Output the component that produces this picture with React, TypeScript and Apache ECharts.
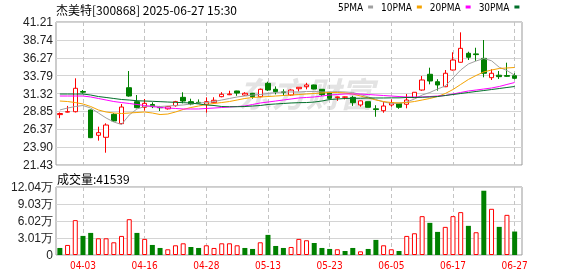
import React, { useEffect, useRef } from 'react';
import * as echarts from 'echarts';

const dates = ['03-31','04-01','04-02','04-03','04-07','04-08','04-09','04-10','04-11','04-14','04-15','04-16','04-17','04-18','04-21','04-22','04-23','04-24','04-25','04-28','04-29','04-30','05-06','05-07','05-08','05-09','05-12','05-13','05-14','05-15','05-16','05-19','05-20','05-21','05-22','05-23','05-26','05-27','05-28','05-29','05-30','06-03','06-04','06-05','06-06','06-09','06-10','06-11','06-12','06-13','06-16','06-17','06-18','06-19','06-20','06-23','06-24','06-25','06-26','06-27'];

const opens = [28.40,28.75,28.80,31.60,29.04,25.54,25.26,28.44,27.15,32.12,30.19,29.41,29.80,29.40,29.20,29.63,30.79,30.19,30.10,29.83,30.05,30.88,31.15,31.67,31.10,31.35,30.88,32.73,31.90,31.55,31.11,31.98,32.26,32.50,31.90,31.49,30.75,30.80,30.79,29.73,30.19,29.20,28.94,29.73,29.96,29.83,30.74,31.80,33.98,32.95,32.26,34.57,35.64,36.88,36.80,36.18,33.51,33.85,33.80,33.78];
const closes = [28.55,28.80,32.04,31.50,25.21,25.90,26.96,27.52,29.45,30.97,29.36,29.96,29.50,29.35,29.50,30.19,30.28,29.87,30.00,30.19,30.38,31.21,31.25,31.38,31.35,30.88,31.90,31.80,31.57,31.45,31.80,32.18,32.50,31.94,31.16,30.65,30.85,30.85,30.05,30.30,29.41,29.10,29.59,30.05,29.41,30.42,31.49,33.19,33.05,32.50,34.12,35.95,37.57,36.33,36.70,34.12,34.12,33.65,33.70,33.42];
const lows = [27.90,28.70,28.70,31.30,25.15,24.80,23.13,27.40,27.06,30.88,29.27,28.94,29.30,28.90,29.10,29.50,29.96,29.70,29.90,28.66,30.00,30.80,31.10,31.00,31.00,30.60,30.80,31.66,31.20,31.00,31.00,31.60,31.90,31.90,31.00,30.50,30.30,30.50,29.60,29.50,29.40,28.10,28.66,29.50,29.20,29.27,30.70,31.70,32.59,31.71,32.20,34.50,35.60,35.95,35.82,33.56,33.19,33.33,33.60,33.28];
const highs = [28.70,29.60,33.42,31.80,29.10,26.73,27.20,28.60,29.87,34.43,31.11,30.56,30.10,29.60,29.60,30.30,31.49,30.60,30.50,30.79,30.80,31.50,31.70,31.70,31.50,31.40,32.00,32.95,32.30,31.90,31.90,32.20,32.80,32.55,31.95,31.50,30.90,30.90,31.00,30.35,30.20,29.70,30.19,30.50,30.00,31.25,31.50,33.74,34.89,33.30,34.57,37.02,39.78,37.10,37.65,38.72,34.67,34.43,35.58,34.12];

const ma5 = [29.04,29.31,29.52,29.66,29.31,28.62,27.93,27.38,27.03,28.35,29.18,29.52,29.59,29.52,29.59,29.66,29.73,29.87,30.01,30.07,30.21,30.42,30.63,30.84,30.97,31.11,31.18,31.32,31.46,31.53,31.53,31.53,31.60,31.60,31.53,31.53,31.57,31.53,31.46,31.18,30.84,30.49,30.14,29.96,29.96,30.14,30.56,31.11,31.46,31.94,32.36,33.46,34.57,35.40,35.82,36.16,35.85,34.95,34.50,33.85];
const ma10 = [30.28,30.21,30.07,29.87,29.52,29.04,28.76,28.62,28.55,28.62,28.69,28.76,28.62,28.41,28.48,28.76,29.11,29.38,29.59,29.80,29.94,30.07,30.21,30.42,30.63,30.77,30.84,30.90,30.97,31.04,31.11,31.18,31.25,31.32,31.39,31.46,31.46,31.39,31.25,30.97,30.70,30.42,30.21,30.07,30.01,30.07,30.21,30.42,30.63,30.90,31.32,31.87,32.57,33.26,33.81,34.30,34.57,34.78,34.85,34.92];
const ma20 = [30.97,30.97,30.97,30.97,30.84,30.63,30.42,30.21,30.07,29.94,29.80,29.66,29.52,29.38,29.31,29.25,29.18,29.18,29.18,29.25,29.31,29.38,29.45,29.52,29.59,29.80,30.01,30.14,30.28,30.42,30.56,30.70,30.77,30.84,30.97,31.11,31.18,31.25,31.25,31.25,31.18,31.11,31.04,30.97,30.90,30.84,30.84,30.84,30.90,30.97,31.04,31.25,31.46,31.67,31.80,31.94,32.08,32.29,32.57,32.84];
const ma30 = [31.25,31.25,31.25,31.25,31.11,30.90,30.77,30.63,30.49,30.42,30.32,30.28,30.24,30.19,30.14,30.10,30.05,30.01,29.87,29.73,29.66,29.52,29.49,29.49,29.52,29.59,29.66,29.80,29.87,29.94,30.01,30.05,30.07,30.14,30.28,30.49,30.56,30.63,30.66,30.66,30.70,30.70,30.70,30.72,30.72,30.77,30.77,30.80,30.84,30.90,31.04,31.18,31.32,31.46,31.60,31.73,31.87,32.01,32.15,32.29];

const volumes = [12450,17800,61700,33800,39100,29600,29600,22500,33800,63400,39100,28500,17800,12450,10100,17200,20700,14200,12450,17200,12450,20700,20700,17200,12450,10700,22500,35600,16000,12450,14200,28500,26100,21300,12450,10700,10100,7100,12450,6500,10700,26700,17200,10100,7100,33800,38500,68800,56900,40900,49800,68800,75900,51600,40300,113800,81800,49800,71100,41539];
// 1 = red (up), -1 = green (down), as drawn in the volume panel
const volumeDir = [-1,1,1,-1,-1,1,1,1,1,1,-1,1,-1,-1,1,1,1,-1,-1,1,1,1,1,1,-1,-1,1,-1,-1,-1,1,1,1,-1,-1,-1,1,-1,-1,1,-1,-1,1,1,-1,1,1,1,-1,-1,1,1,1,-1,1,-1,1,-1,1,-1];

const priceTickLabels = ['21.43','23.90','26.37','28.85','31.32','33.79','36.27','38.74','41.21'];
const volumeTickLabels = ['0','3.01万','6.02万','9.03万','12.04万'];
const priceMin = 21.43;
const priceMax = 41.21;
const volumeMax = 120400;

const maNames = ['5PMA','10PMA','20PMA','30PMA'];
const maColors = ['#a0a0a0','#f5a300','#ff00ff','#006f2a'];

const RED = '#ff0000';
const GREEN = '#008000';

export default function App() {
  const ref = useRef<HTMLDivElement>(null);
  useEffect(() => {
    if (!ref.current) return;
    const chart = echarts.init(ref.current, null, { renderer: 'svg' });
    const labelInterval = (index: number) => index % 8 === 3;
    const narrow = '"Liberation Sans Narrow", "DejaVu Sans Condensed", Arial, sans-serif';
    const catAxis = (gridIndex: number, showLabel: boolean) => ({
      type: 'category',
      gridIndex,
      data: dates,
      boundaryGap: true,
      axisLine: { show: false },
      axisTick: { show: false },
      axisLabel: {
        show: showLabel,
        interval: labelInterval,
        color: RED,
        fontSize: 10,
        fontFamily: narrow,
        margin: 5,
      },
      splitLine: {
        show: true,
        interval: labelInterval,
        alignWithLabel: true,
        lineStyle: { color: '#c4c4c4', type: [4, 3], width: 1 },
      },
    });
    const mas = [ma5, ma10, ma20, ma30];
    const option: any = {
      animation: false,
      textStyle: { fontFamily: 'Arial, "Liberation Sans", sans-serif' },
      legend: {
        data: maNames,
        left: 338,
        top: 2,
        align: 'right',
        icon: 'rect',
        itemWidth: 5,
        itemHeight: 3,
        itemGap: 8,
        padding: 0,
        selectedMode: false,
        textStyle: { fontSize: 10, fontFamily: narrow, color: '#000' },
      },
      grid: [
        { left: 56, top: 22, width: 466, height: 143, show: true, borderColor: '#999', borderWidth: 1, backgroundColor: 'transparent', outerBoundsMode: 'none' },
        { left: 56, top: 22, width: 462.5, height: 143, outerBoundsMode: 'none' },
        { left: 56, top: 187, width: 466, height: 68, show: true, borderColor: '#999', borderWidth: 1, backgroundColor: 'transparent', outerBoundsMode: 'none' },
        { left: 56, top: 187, width: 462.5, height: 68, outerBoundsMode: 'none' },
      ],
      xAxis: [
        { type: 'value', gridIndex: 0, show: false, min: 0, max: 1 },
        catAxis(1, false),
        { type: 'value', gridIndex: 2, show: false, min: 0, max: 1 },
        catAxis(3, true),
      ],
      yAxis: [
        {
          type: 'value', gridIndex: 0, min: 0, max: priceTickLabels.length - 1, interval: 1,
          axisLine: { show: false }, axisTick: { show: false },
          axisLabel: { formatter: (v: number) => priceTickLabels[Math.round(v)], color: '#222', fontSize: 12, margin: 3 },
          splitLine: { show: true, lineStyle: { color: '#d4d4d4', width: 1 } },
        },
        { type: 'value', gridIndex: 1, min: priceMin, max: priceMax, show: false },
        {
          type: 'value', gridIndex: 2, min: 0, max: volumeTickLabels.length - 1, interval: 1,
          axisLine: { show: false }, axisTick: { show: false },
          axisLabel: { formatter: (v: number) => volumeTickLabels[Math.round(v)], color: '#222', fontSize: 12, margin: 3 },
          splitLine: { show: true, lineStyle: { color: '#d4d4d4', width: 1 } },
        },
        { type: 'value', gridIndex: 3, min: 0, max: volumeMax, show: false },
      ],
      graphic: [
        {
          type: 'text', x: 238, y: 92, z: 0, silent: true,
          style: { text: '东方财富', font: 'italic bold 34px "Noto Sans CJK SC", sans-serif', fill: '#e3e3e3', verticalAlign: 'middle' },
        },
        {
          type: 'text', x: 56, y: 9, z: 10,
          style: { text: '杰美特[300868] 2025-06-27 15:30', font: '12px "Noto Sans CJK SC", sans-serif', fill: '#000', verticalAlign: 'middle' },
        },
        {
          type: 'text', x: 57, y: 178, z: 10,
          style: { text: '成交量:' + volumes[volumes.length - 1], font: '12px "Noto Sans CJK SC", sans-serif', fill: '#000', verticalAlign: 'middle' },
        },
      ],
      series: [
        {
          type: 'candlestick',
          xAxisIndex: 1,
          yAxisIndex: 1,
          barWidth: 5,
          data: dates.map((_, i) => [opens[i], closes[i], lows[i], highs[i]]),
          itemStyle: { color: '#ffffff', color0: GREEN, borderColor: RED, borderColor0: GREEN, borderWidth: 1 },
        },
        ...mas.map((arr, k) => ({
          type: 'line',
          name: maNames[k],
          xAxisIndex: 1,
          yAxisIndex: 1,
          data: arr,
          showSymbol: false,
          symbol: 'none',
          color: maColors[k],
          lineStyle: { width: 1, color: maColors[k] },
        })),
        {
          type: 'bar',
          xAxisIndex: 3,
          yAxisIndex: 3,
          barWidth: 5,
          data: volumes.map((v, i) => ({
            value: v,
            itemStyle: volumeDir[i] > 0
              ? { color: '#ffffff', borderColor: RED, borderWidth: 1 }
              : { color: GREEN, borderWidth: 0 },
          })),
        },
      ],
    };
    chart.setOption(option);
    return () => chart.dispose();
  }, []);
  return <div ref={ref} style={{ position: 'fixed', left: 0, top: 0, width: 578, height: 276 }} />;
}
